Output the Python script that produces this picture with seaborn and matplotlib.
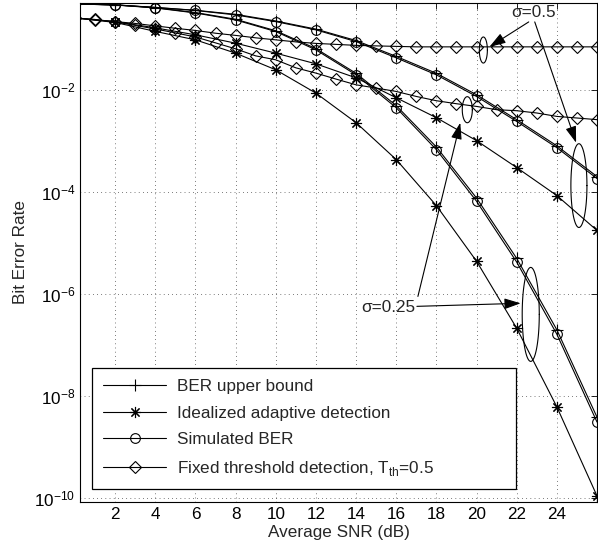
import numpy as np
import pandas as pd
import seaborn as sns
import matplotlib
matplotlib.use("Agg")
import matplotlib.pyplot as plt
from matplotlib.ticker import NullLocator, FixedLocator

snr_even = [0, 2, 4, 6, 8, 10, 12, 14, 16, 18, 20, 22, 24, 26]
snr_all = list(range(0, 27))

# sigma = 0.5
bound_05 = [0.48, 0.46, 0.41, 0.36, 0.30, 0.222, 0.154, 0.092, 0.045, 0.021, 0.0080, 0.0026, 8.0e-4, 2.0e-4]
ideal_05 = [0.255, 0.216, 0.163, 0.119, 0.0817, 0.0521, 0.0322, 0.0171, 6.98e-3, 2.84e-3, 1.01e-3, 3.0e-4, 8.5e-5, 1.76e-5]
sim_05 = [0.479, 0.457, 0.408, 0.357, 0.292, 0.216, 0.149, 0.0877, 0.0422, 0.0196, 0.0074, 0.0024, 7.36e-4, 1.83e-4]
fixed_05 = [0.255, 0.233, 0.216, 0.199, 0.178, 0.160, 0.145, 0.128, 0.116, 0.104, 0.0949, 0.0866, 0.0809,
            0.0774, 0.074, 0.0723, 0.0707, 0.0692, 0.0692, 0.0692, 0.0692, 0.0692, 0.0692, 0.0692, 0.0692,
            0.0692, 0.0692]

# sigma = 0.25
bound_025 = [0.48, 0.46, 0.405, 0.325, 0.24, 0.143, 0.064, 0.021, 4.9e-3, 7.6e-4, 7.6e-5, 5.0e-6, 2.0e-7, 3.9e-9]
ideal_025 = [0.255, 0.208, 0.139, 0.0949, 0.0521, 0.0246, 8.6e-3, 2.27e-3, 4.3e-4, 5.4e-5, 4.4e-6, 2.15e-7, 6.2e-9, 1.12e-10]
sim_025 = [0.479, 0.457, 0.400, 0.319, 0.233, 0.138, 0.0604, 0.0196, 4.45e-3, 6.73e-4, 6.58e-5, 4.24e-6, 1.64e-7, 3.13e-9]
fixed_025 = [0.255, 0.238, 0.213, 0.182, 0.155, 0.130, 0.108, 0.0828, 0.0633, 0.0461, 0.0386, 0.0269, 0.0212,
             0.0162, 0.0125, 0.0108, 9.27e-3, 7.40e-3, 6.10e-3, 5.33e-3, 4.72e-3, 4.07e-3, 3.89e-3, 3.51e-3,
             3.01e-3, 2.80e-3, 2.60e-3]

labels = ["BER upper bound", "Idealized adaptive detection", "Simulated BER",
          "Fixed threshold detection, T$_{\\mathrm{th}}$=0.5"]
x_ticks = [2, 4, 6, 8, 10, 12, 14, 16, 18, 20, 22, 24]
y_ticks = [1e-10, 1e-8, 1e-6, 1e-4, 1e-2]

sns.set_style("white")
plt.rcParams['font.family'] = ['Liberation Sans', 'DejaVu Sans']
plt.rcParams['mathtext.fontset'] = 'custom'
plt.rcParams['mathtext.rm'] = 'Liberation Sans'
FS = 12.3

fig, ax = plt.subplots(figsize=(5.98, 5.54), dpi=100)
fig.subplots_adjust(left=0.1338, right=0.9983, top=0.9946, bottom=0.0939)

star = (8, 2, 0)
styles = [("+", 8), (star, 8), ("o", 7), ("D", 6.5)]
sets = [
    (snr_even, bound_05, bound_025),
    (snr_even, ideal_05, ideal_025),
    (snr_even, sim_05, sim_025),
    (snr_all, fixed_05, fixed_025),
]
for (xs, y05, y025), (mk, ms), lbl in zip(sets, styles, labels):
    for ys, l in [(y05, lbl), (y025, None)]:
        df = pd.DataFrame({"snr": xs, "ber": ys})
        sns.lineplot(data=df, x="snr", y="ber", ax=ax, color="k", linewidth=0.8,
                     marker=mk, markersize=ms, markerfacecolor="none",
                     markeredgecolor="k", markeredgewidth=0.8, label=l, legend=False)

ax.set_yscale("log")
ax.set_xlim(0.25, 26)
ax.set_ylim(8.5e-11, 0.5)
ax.xaxis.set_major_locator(FixedLocator(x_ticks))
ax.yaxis.set_major_locator(FixedLocator(y_ticks))
ax.yaxis.set_minor_locator(NullLocator())
ax.xaxis.set_minor_locator(NullLocator())
ax.grid(True, which="major", color="k", linestyle=(0, (1, 5)), linewidth=0.5)
ax.tick_params(direction="in", top=True, right=True, length=4, width=0.6,
               labelsize=FS, colors="k")
for s in ax.spines.values():
    s.set_color("k")
    s.set_linewidth(0.8)
ax.set_xlabel("Average SNR (dB)", fontsize=FS, labelpad=2)
ax.set_ylabel("Bit Error Rate", fontsize=FS, labelpad=4)


def ellipse(cx, cy, w, h):
    t = np.linspace(0, 2 * np.pi, 120)
    ax.plot(cx + w / 2 * np.cos(t), cy * 10 ** (h / 2 * np.sin(t)), color="k", linewidth=0.8)


arrow = dict(arrowstyle="-|>,head_length=1.0,head_width=0.33", color="k", lw=0.8,
             shrinkA=0, shrinkB=0)

# sigma = 0.5 annotations
ax.text(22.85, 0.33, "σ=0.5", ha="center", va="center", fontsize=FS)
ellipse(20.34, 0.06, 0.4, 0.51)
ellipse(25.1, 1.33e-4, 0.8, 1.64)
ax.annotate("", xy=(20.64, 0.069), xytext=(22.6, 0.213), arrowprops=arrow)
ax.annotate("", xy=(24.96, 9.2e-4), xytext=(22.9, 0.213), arrowprops=arrow)

# sigma = 0.25 annotations
ax.text(15.62, 5.5e-7, "σ=0.25", ha="center", va="center", fontsize=FS)
ellipse(19.54, 4.07e-3, 0.5, 0.51)
ellipse(22.7, 4.0e-7, 0.85, 1.84)
ax.annotate("", xy=(19.19, 2.26e-3), xytext=(17.08, 9e-7), arrowprops=arrow)
ax.annotate("", xy=(22.2, 6.6e-7), xytext=(17.03, 5.75e-7), arrowprops=arrow)

h, l = ax.get_legend_handles_labels()
leg = ax.legend(h, l, loc="lower left", bbox_to_anchor=(0.023, 0.026, 0.82, 0.2365),
                mode="expand", borderaxespad=0, fontsize=FS, handlelength=3.7,
                handletextpad=0.6, labelspacing=0.67, borderpad=0.66,
                fancybox=False, framealpha=1, edgecolor="k")
leg.get_frame().set_linewidth(0.9)

fig.savefig("out.png", dpi=100)
